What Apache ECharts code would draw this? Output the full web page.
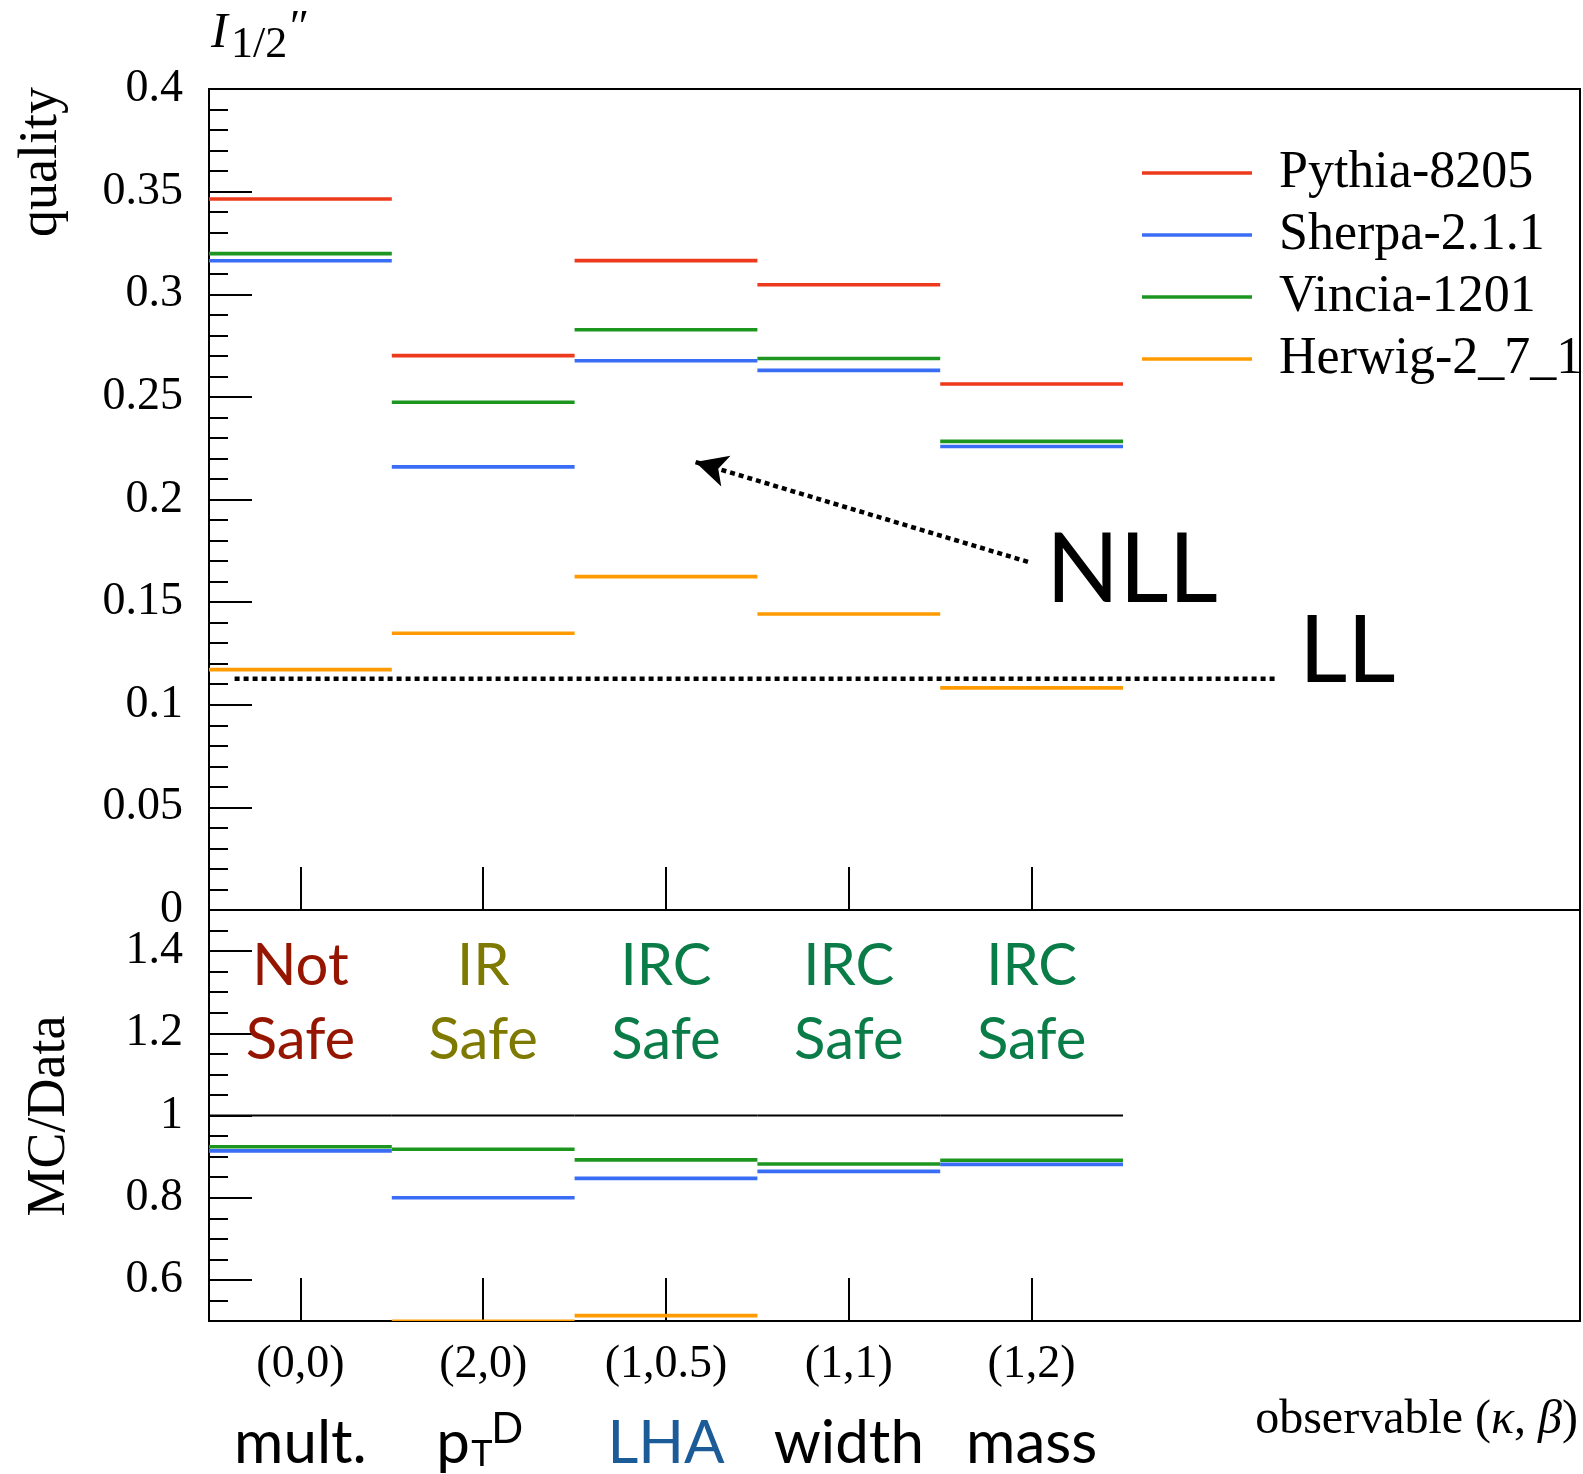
<!DOCTYPE html>
<html>
<head>
<meta charset="utf-8">
<script src="https://cdn.jsdelivr.net/npm/echarts@6/dist/echarts.min.js"></script>
<style>
  html, body { margin: 0; padding: 0; background: #ffffff; }
  #chart { width: 1583px; height: 1474px; }
</style>
</head>
<body>
<div id="chart"></div>
<script>
// Observables (bins along x) and their (kappa, beta) exponents
const observables = ['mult.', 'pTD', 'LHA', 'width', 'mass'];
const kappaBeta = ['(0,0)', '(2,0)', '(1,0.5)', '(1,1)', '(1,2)'];
const safetyLine1 = ['Not', 'IR', 'IRC', 'IRC', 'IRC'];
const safetyLine2 = ['Safe', 'Safe', 'Safe', 'Safe', 'Safe'];

// Generators
const generators = ['Pythia-8205', 'Sherpa-2.1.1', 'Vincia-1201', 'Herwig-2_7_1'];

// Classifier quality I_{1/2}'' per observable
const pythiaQuality = [0.3464, 0.2701, 0.3164, 0.3046, 0.2563];
const sherpaQuality = [0.3163, 0.2159, 0.2676, 0.2629, 0.2258];
const vinciaQuality = [0.3198, 0.2474, 0.2827, 0.2687, 0.2283];
const herwigQuality = [0.1171, 0.1348, 0.1624, 0.1442, 0.1082];

// MC/Data ratios (null where the ratio falls outside the panel)
const dataRatio   = [1, 1, 1, 1, 1];
const sherpaRatio = [0.914, 0.800, 0.847, 0.864, 0.881];
const vinciaRatio = [0.924, 0.918, 0.892, 0.882, 0.891];
const herwigRatio = [null, 0.499, 0.513, null, null];

// Axis ticks
const qualityAxis = { min: 0, max: 0.4, interval: 0.05 };
const ratioAxis = { min: 0.5, max: 1.5, minorInterval: 0.05 };
const ratioTicks = [0.6, 0.8, 1.0, 1.2, 1.4];
const observableTicks = [0, 1, 2, 3, 4];
const xRange = { min: -0.5, max: 7 };

// LL reference level and the NLL arrow annotation (data coordinates)
const llLevel = 0.1127;
const llSpan = [-0.36, 5.34];
const nllArrowFrom = [3.98, 0.1696];
const nllArrowTo = [2.16, 0.2183];

const colors = {
  'Pythia-8205': '#ee3a1c',
  'Sherpa-2.1.1': '#3a6df5',
  'Vincia-1201': '#1c961f',
  'Herwig-2_7_1': '#ff9b00'
};
const safetyColors = ['#961500', '#7e7900', '#0a7c47', '#0a7c47', '#0a7c47'];
const nameColors = ['#000000', '#000000', '#1b5b98', '#000000', '#000000'];

const SERIF = "'Liberation Serif', 'DejaVu Serif', serif";
const SANS = "Lato, 'Open Sans', sans-serif";

const chart = echarts.init(document.getElementById('chart'), null, { renderer: 'canvas' });

// one horizontal segment per bin
function binSegment(width) {
  return function (params, api) {
    const i = api.value(0);
    const v = api.value(1);
    const a = api.coord([i - 0.5, v]);
    const b = api.coord([i + 0.5, v]);
    return {
      type: 'line',
      shape: { x1: a[0], y1: a[1], x2: b[0], y2: b[1] },
      style: { stroke: api.visual('color'), lineWidth: width }
    };
  };
}

function toPoints(arr) {
  const out = [];
  arr.forEach((v, i) => { if (v !== null) out.push([i, v]); });
  return out;
}

function stepSeries(name, values, gridIdx, yIdx) {
  return {
    name: name,
    type: 'custom',
    xAxisIndex: gridIdx,
    yAxisIndex: yIdx,
    clip: true,
    silent: true,
    itemStyle: { color: colors[name] },
    renderItem: binSegment(3.6),
    data: toPoints(values)
  };
}

// safety labels inside the ratio panel
function safetyItem(params, api) {
  const i = api.value(0);
  const p = api.coord([i, ratioAxis.max]);
  const base = { align: 'center', verticalAlign: 'middle', fontFamily: SANS, fontSize: 58, fill: safetyColors[i] };
  return {
    type: 'group',
    children: [
      { type: 'text', style: Object.assign({ text: safetyLine1[i], x: p[0], y: p[1] + 56 }, base) },
      { type: 'text', style: Object.assign({ text: safetyLine2[i], x: p[0], y: p[1] + 130 }, base) }
    ]
  };
}

// observable names and exponents below the ratio panel
function observableItem(params, api) {
  const i = api.value(0);
  const p = api.coord([i, ratioAxis.min]);
  const x = p[0], y = p[1];
  const children = [
    { type: 'text', style: { text: kappaBeta[i], x: x, y: y + 44, align: 'center', verticalAlign: 'middle',
        fontFamily: SERIF, fontSize: 46, fill: '#000' } }
  ];
  if (observables[i] === 'pTD') {
    children.push(
      { type: 'text', style: { text: 'p', x: x - 47, y: y + 123, align: 'left', verticalAlign: 'middle',
          fontFamily: SANS, fontSize: 60, fill: nameColors[i] } },
      { type: 'text', style: { text: 'T', x: x - 12, y: y + 133, align: 'left', verticalAlign: 'middle',
          fontFamily: SANS, fontSize: 36, fill: nameColors[i] } },
      { type: 'text', style: { text: 'D', x: x + 8, y: y + 108, align: 'left', verticalAlign: 'middle',
          fontFamily: SANS, fontSize: 42, fill: nameColors[i] } }
    );
  } else {
    children.push(
      { type: 'text', style: { text: observables[i], x: x, y: y + 123, align: 'center', verticalAlign: 'middle',
          fontFamily: SANS, fontSize: 60, fill: nameColors[i] } }
    );
  }
  return { type: 'group', children: children };
}

const tickStyle = { color: '#000', width: 2 };
const tickLabel = { margin: 26, fontFamily: SERIF, fontSize: 46, color: '#000', padding: [5, 0, 0, 0] };

const option = {
  animation: false,
  backgroundColor: '#ffffff',
  grid: [
    { left: 209, top: 89, width: 1371, height: 821, show: true, borderColor: '#000', borderWidth: 2, backgroundColor: 'transparent' },
    { left: 209, top: 910, width: 1371, height: 411, show: true, borderColor: '#000', borderWidth: 2, backgroundColor: 'transparent' }
  ],
  xAxis: [0, 1].map(g => ({
    gridIndex: g,
    type: 'value',
    min: xRange.min,
    max: xRange.max,
    axisLine: { show: true, onZero: false, lineStyle: tickStyle },
    axisTick: { show: true, customValues: observableTicks, inside: true, length: 43, lineStyle: tickStyle },
    axisLabel: { show: false },
    splitLine: { show: false }
  })),
  yAxis: [
    {
      gridIndex: 0, type: 'value', position: 'left',
      min: qualityAxis.min, max: qualityAxis.max, interval: qualityAxis.interval,
      axisLine: { show: true, onZero: false, lineStyle: tickStyle },
      axisTick: { show: true, inside: true, length: 43, lineStyle: tickStyle },
      minorTick: { show: true, splitNumber: 5, length: 19, lineStyle: tickStyle },
      axisLabel: tickLabel,
      splitLine: { show: false },
      minorSplitLine: { show: false }
    },
    {
      gridIndex: 1, type: 'value', position: 'left',
      min: ratioAxis.min, max: ratioAxis.max,
      axisLine: { show: true, onZero: false, lineStyle: tickStyle },
      axisTick: { show: true, customValues: ratioTicks, inside: true, length: 43, lineStyle: tickStyle },
      axisLabel: Object.assign({ customValues: ratioTicks, formatter: v => String(Math.round(v * 10) / 10) }, tickLabel),
      splitLine: { show: false }
    },
    {
      gridIndex: 1, type: 'value', position: 'left', offset: 0,
      min: ratioAxis.min, max: ratioAxis.max, interval: ratioAxis.minorInterval,
      axisLine: { show: false, onZero: false },
      axisTick: { show: true, inside: true, length: 19, lineStyle: tickStyle },
      axisLabel: { show: false },
      splitLine: { show: false }
    }
  ],
  legend: {
    orient: 'vertical',
    left: 1142,
    top: 147,
    padding: 0,
    itemWidth: 110,
    itemHeight: 3.5,
    itemGap: 10,
    selectedMode: false,
    textStyle: { fontFamily: SERIF, fontSize: 52, lineHeight: 52, color: '#000', padding: [0, 0, 0, 22] },
    data: generators.map(g => ({ name: g, icon: 'rect', itemStyle: { color: colors[g] } }))
  },
  series: [
    stepSeries('Pythia-8205', pythiaQuality, 0, 0),
    stepSeries('Sherpa-2.1.1', sherpaQuality, 0, 0),
    stepSeries('Vincia-1201', vinciaQuality, 0, 0),
    stepSeries('Herwig-2_7_1', herwigQuality, 0, 0),
    {
      name: 'LL',
      type: 'line',
      xAxisIndex: 0, yAxisIndex: 0,
      silent: true,
      symbol: 'none',
      lineStyle: { color: '#000', width: 4.5, type: [5, 4] },
      data: [[llSpan[0], llLevel], [llSpan[1], llLevel]],
      markLine: {
        silent: true,
        symbol: ['none', 'arrow'],
        symbolSize: [24, 32],
        label: { show: false },
        lineStyle: { color: '#000', width: 4.5, type: [5, 4] },
        data: [[{ coord: nllArrowFrom }, { coord: nllArrowTo }]]
      }
    },
    {
      name: 'Data',
      type: 'custom',
      xAxisIndex: 1, yAxisIndex: 1,
      clip: true, silent: true,
      itemStyle: { color: '#000' },
      renderItem: binSegment(2),
      data: toPoints(dataRatio)
    },
    stepSeries('Sherpa-2.1.1', sherpaRatio, 1, 1),
    stepSeries('Vincia-1201', vinciaRatio, 1, 1),
    stepSeries('Herwig-2_7_1', herwigRatio, 1, 1),
    {
      name: 'safety',
      type: 'custom',
      xAxisIndex: 1, yAxisIndex: 1,
      clip: false, silent: true,
      renderItem: safetyItem,
      data: observables.map((o, i) => [i, ratioAxis.max])
    },
    {
      name: 'observables',
      type: 'custom',
      xAxisIndex: 1, yAxisIndex: 1,
      clip: false, silent: true,
      renderItem: observableItem,
      data: observables.map((o, i) => [i, ratioAxis.min])
    }
  ],
  graphic: [
    // panel title I_{1/2}''
    { type: 'text', x: 211, y: 34, style: { text: 'I', fontFamily: SERIF, fontStyle: 'italic', fontSize: 50, fill: '#000', verticalAlign: 'middle' } },
    { type: 'text', x: 231, y: 45, style: { text: '1/2', fontFamily: SERIF, fontSize: 44, fill: '#000', verticalAlign: 'middle' } },
    { type: 'text', x: 287, y: 30, style: { text: '\u2033', fontFamily: SERIF, fontStyle: 'italic', fontSize: 46, fill: '#000', verticalAlign: 'middle' } },
    // axis titles
    { type: 'text', x: 42, y: 162, rotation: Math.PI / 2, style: { text: 'quality', fontFamily: SERIF, fontSize: 54, fill: '#000', align: 'center', verticalAlign: 'middle' } },
    { type: 'text', x: 50, y: 1116, rotation: Math.PI / 2, style: { text: 'MC/Data', fontFamily: SERIF, fontSize: 54, fill: '#000', align: 'center', verticalAlign: 'middle' } },
    {
      type: 'text', x: 1578, y: 1420,
      style: {
        text: '{n|observable (}{g|\u03ba}{n|, }{g|\u03b2}{n|)}',
        align: 'right', verticalAlign: 'middle',
        rich: {
          n: { fontFamily: SERIF, fontSize: 48, fill: '#000' },
          g: { fontFamily: SERIF, fontSize: 48, fontStyle: 'italic', fill: '#000' }
        }
      }
    },
    // annotations
    { type: 'text', x: 1046, y: 571, style: { text: 'NLL', fontFamily: SANS, fontSize: 96, fill: '#000', verticalAlign: 'middle' } },
    { type: 'text', x: 1299, y: 652, style: { text: 'LL', fontFamily: SANS, fontSize: 94, fill: '#000', verticalAlign: 'middle' } }
  ]
};

chart.setOption(option);
</script>
</body>
</html>
